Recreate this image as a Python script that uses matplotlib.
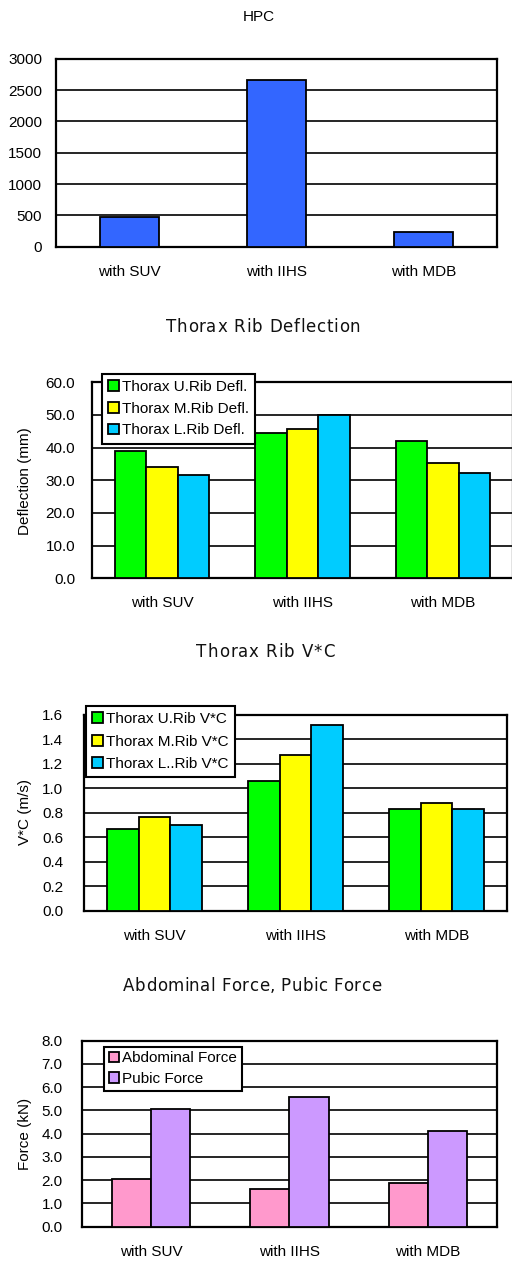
import matplotlib
matplotlib.use("Agg")
import matplotlib.pyplot as plt
import numpy as np
from matplotlib.font_manager import FontProperties, findfont, get_font

categories = ["with SUV", "with IIHS", "with MDB"]

hpc_values = [479, 2655, 230]

defl_labels = ["Thorax U.Rib Defl.", "Thorax M.Rib Defl.", "Thorax L.Rib Defl."]
defl_upper = [39.0, 44.6, 42.1]
defl_middle = [34.2, 45.8, 35.4]
defl_lower = [31.7, 50.1, 32.3]

vc_labels = ["Thorax U.Rib V*C", "Thorax M.Rib V*C", "Thorax L..Rib V*C"]
vc_upper = [0.67, 1.06, 0.83]
vc_middle = [0.765, 1.27, 0.88]
vc_lower = [0.70, 1.515, 0.83]

force_labels = ["Abdominal Force", "Pubic Force"]
force_abdominal = [2.05, 1.63, 1.89]
force_pubic = [5.08, 5.59, 4.12]

W, H = 512, 1262
DPI = 100
fig = plt.figure(figsize=(W / DPI, H / DPI), dpi=DPI)
fig.patch.set_facecolor("white")

TICK_FONT = ["Liberation Sans", "DejaVu Sans"]
FS = 11


def px_axes(left, top, right, bottom):
    return fig.add_axes([left / W, 1 - bottom / H, (right - left) / W, (bottom - top) / H])


def tracked_title(text, cx, cy, size, target_width):
    """Draw a letter-spaced title centred at pixel (cx, cy)."""
    font = get_font(findfont(FontProperties(family="DejaVu Sans")))
    font.set_size(size, DPI)
    advs = [font.load_char(ord(c)).linearHoriAdvance / 65536.0 for c in text]
    natural = sum(advs)
    track = max(0.0, (target_width - natural) / max(1, len(text) - 1))
    total = natural + track * (len(text) - 1)
    x = cx - total / 2
    for c, a in zip(text, advs):
        fig.text(x / W, 1 - cy / H, c, ha="left", va="center",
                 family="DejaVu Sans", fontsize=size, color="#111111")
        x += a + track


def style_axes(ax, ylim, yticks, fmt, ypad):
    ax.set_xlim(-0.5, len(categories) - 0.5)
    ax.set_ylim(*ylim)
    ax.set_yticks(yticks)
    ax.set_yticklabels([fmt.format(v) for v in yticks], family=TICK_FONT, fontsize=FS)
    ax.set_xticks(range(len(categories)))
    ax.set_xticklabels(categories, family=TICK_FONT, fontsize=FS)
    ax.tick_params(axis="both", length=0)
    ax.tick_params(axis="x", pad=13)
    ax.tick_params(axis="y", pad=ypad)
    ax.set_axisbelow(True)
    ax.yaxis.grid(True, color="black", linewidth=1.2)
    for s in ax.spines.values():
        s.set_color("black")
        s.set_linewidth(1.6)


def grouped(ax, series, colors, group_width):
    n = len(series)
    bw = group_width / n
    x = np.arange(len(categories))
    bars = []
    for i, (vals, c) in enumerate(zip(series, colors)):
        offs = -group_width / 2 + bw * (i + 0.5)
        b = ax.bar(x + offs, vals, width=bw, color=c, edgecolor="black", linewidth=1.3, zorder=3)
        bars.append(b)
    return bars


def add_legend(handles, labels, left, top, spacing, borderpad):
    leg = fig.legend(handles, labels, loc="upper left",
                     bbox_to_anchor=(left / W, 1 - top / H),
                     bbox_transform=fig.transFigure,
                     prop={"family": TICK_FONT, "size": FS},
                     frameon=True, fancybox=False, shadow=False,
                     handlelength=0.7, handleheight=0.7, handletextpad=0.2,
                     borderpad=borderpad, labelspacing=spacing, borderaxespad=0)
    fr = leg.get_frame()
    fr.set_edgecolor("black")
    fr.set_linewidth(1.5)
    fr.set_alpha(1)
    leg.set_zorder(10)
    return leg


# Panel 1: HPC
ax1 = px_axes(56, 58.7, 497, 246.7)
ax1.bar(np.arange(len(categories)), hpc_values, width=0.4, color="#3366FF",
        edgecolor="black", linewidth=1.3, zorder=3)
style_axes(ax1, (0, 3000), [0, 500, 1000, 1500, 2000, 2500, 3000], "{:.0f}", 10)
fig.text(259 / W, 1 - 17 / H, "HPC", ha="center", va="center", family=TICK_FONT, fontsize=11)

# Panel 2: Thorax Rib Deflection
ax2 = px_axes(92, 382.3, 513, 578.3)
b2 = grouped(ax2, [defl_upper, defl_middle, defl_lower], ["#00FF00", "#FFFF00", "#00CCFF"], 0.67)
style_axes(ax2, (0, 60), [0, 10, 20, 30, 40, 50, 60], "{:.1f}", 12)
tracked_title("Thorax Rib Deflection", 263, 327, 12, 195)
fig.text(25 / W, 1 - 481 / H, "Deflection (mm)", rotation=90, ha="center", va="center",
         family=TICK_FONT, fontsize=FS)
add_legend([b[0] for b in b2], defl_labels, 102, 374, 0.5, 0.4)

# Panel 3: Thorax Rib V*C
ax3 = px_axes(84, 714.7, 507, 910.7)
b3 = grouped(ax3, [vc_upper, vc_middle, vc_lower], ["#00FF00", "#FFFF00", "#00CCFF"], 0.667)
style_axes(ax3, (0, 1.6), [0, 0.2, 0.4, 0.6, 0.8, 1.0, 1.2, 1.4, 1.6], "{:.1f}", 15)
tracked_title("Thorax Rib V*C", 265.5, 652, 12, 138)
fig.text(25 / W, 1 - 812 / H, "V*C (m/s)", rotation=90, ha="center", va="center",
         family=TICK_FONT, fontsize=FS)
add_legend([b[0] for b in b3], vc_labels, 86, 706, 0.55, 0.4)

# Panel 4: Abdominal Force, Pubic Force
ax4 = px_axes(82, 1040.7, 497, 1226.7)
b4 = grouped(ax4, [force_abdominal, force_pubic], ["#FF99CC", "#CC99FF"], 0.565)
style_axes(ax4, (0, 8), [0, 1, 2, 3, 4, 5, 6, 7, 8], "{:.1f}", 14)
tracked_title("Abdominal Force, Pubic Force", 252, 986, 12, 258)
fig.text(25 / W, 1 - 1134 / H, "Force (kN)", rotation=90, ha="center", va="center",
         family=TICK_FONT, fontsize=FS)
add_legend([b[0] for b in b4], force_labels, 104, 1046.7, 0.45, 0.3)

fig.savefig("out.png", dpi=DPI, facecolor="white")
